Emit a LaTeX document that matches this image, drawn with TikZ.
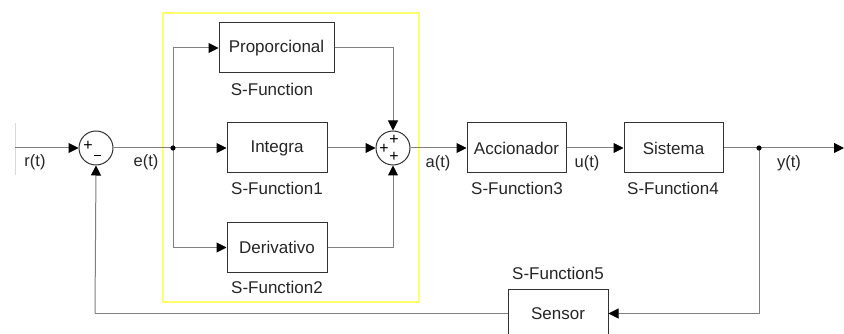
\documentclass[tikz,border=0pt]{standalone}
\usepackage{fontspec}
\setmainfont{Liberation Sans}
\usetikzlibrary{arrows.meta}
\definecolor{wire}{RGB}{128,128,128}
\definecolor{ylw}{RGB}{255,255,110}
\begin{document}
\begin{tikzpicture}[x=1pt,y=-1pt,
  every node/.style={font=\fontsize{17}{20}\selectfont, text=black!85},
  blk/.style={draw=black!80, line width=1pt, fill=white, minimum height=50pt, inner sep=0pt},
  sumnode/.style={circle, draw=black!80, line width=1pt, fill=white, minimum size=34pt, inner sep=0pt},
  wirestyle/.style={draw=wire, line width=1pt},
  arr/.style={wirestyle, -{Triangle[length=10pt,width=10pt,color=black]}},
  sig/.style={font=\fontsize{16.5}{20}\selectfont},
  lbl/.style={font=\fontsize{17}{20}\selectfont},
  pm/.style={font=\fontsize{16}{16}\selectfont, inner sep=0pt, text=black}
]
\useasboundingbox (0,0) rectangle (844,334);
\clip (0,0) rectangle (844,334);
\fill[white] (0,0) rectangle (844,334);

% yellow subsystem frame
\draw[ylw, line width=2pt] (163,13) rectangle (419,302);

% faint left edge
\draw[black!15, line width=1pt] (15,123) -- (15,175);

% blocks
\node[blk, minimum width=115pt] (prop) at (276.5,48) {Proporcional};
\node[blk, minimum width=100pt] (integ) at (277,148) {Integra};
\node[blk, minimum width=100pt] (deriv) at (277,247.5) {Derivativo};
\node[blk, minimum width=99pt] (acc) at (516.5,148) {Accionador};
\node[blk, minimum width=99pt] (sis) at (673.5,148) {Sistema};
\node[blk, minimum width=100pt] (sen) at (558,314) {Sensor};

\node[sumnode] (s1) at (96,148) {};
\node[sumnode] (s2) at (393,148) {};

% signs
\node[pm] (s1p) at (88,146) {+};
\draw[black, line width=1.2pt] (94,155.5) -- (101,155.5);
\node[pm] (s2t) at (394,139.5) {+};
\node[pm] (s2l) at (384,148.5) {+};
\node[pm] (s2b) at (394,157) {+};

% block captions
\node[lbl] (c0) at (272,89) {S-Function};
\node[lbl] (c1) at (277,188) {S-Function1};
\node[lbl] (c2) at (277,287) {S-Function2};
\node[lbl] (c3) at (517,188) {S-Function3};
\node[lbl] (c4) at (673,188) {S-Function4};
\node[lbl] (c5) at (558,273) {S-Function5};

% signal labels
\node[sig] (lr) at (35,162) {r(t)};
\node[sig] (le) at (146,162) {e(t)};
\node[sig] (la) at (438,163) {a(t)};
\node[sig] (lu) at (587,163) {u(t)};
\node[sig] (ly) at (789,163) {y(t)};

% coordinates
\coordinate (in) at (15,148);
\coordinate (out) at (844,148);
\coordinate (b1) at (173,148);
\coordinate (b2) at (759,148);
\coordinate (fb) at (759,313.5);
\coordinate (fl) at (95,313.5);

% wires
\draw[arr] (in) -- (s1.west);
\draw[wirestyle] (s1.east) -- (b1);
\draw[arr] (b1) |- (prop.west);
\draw[arr] (b1) -- (integ.west);
\draw[arr] (b1) |- (deriv.west);
\draw[arr] (prop.east) -| (s2.north);
\draw[arr] (integ.east) -- (s2.west);
\draw[arr] (deriv.east) -| (s2.south);
\draw[arr] (s2.east) -- (acc.west);
\draw[arr] (acc.east) -- (sis.west);
\draw[arr] (sis.east) -- (out);
\draw[arr] (b2) |- (sen.east |- fb);
\draw[wirestyle] (sen.west |- fl) -- (fl);
\draw[arr] (fl) -- (s1.south);

\fill[black] (b1) circle (2.6pt);
\fill[black] (b2) circle (2.6pt);
\end{tikzpicture}
\end{document}
